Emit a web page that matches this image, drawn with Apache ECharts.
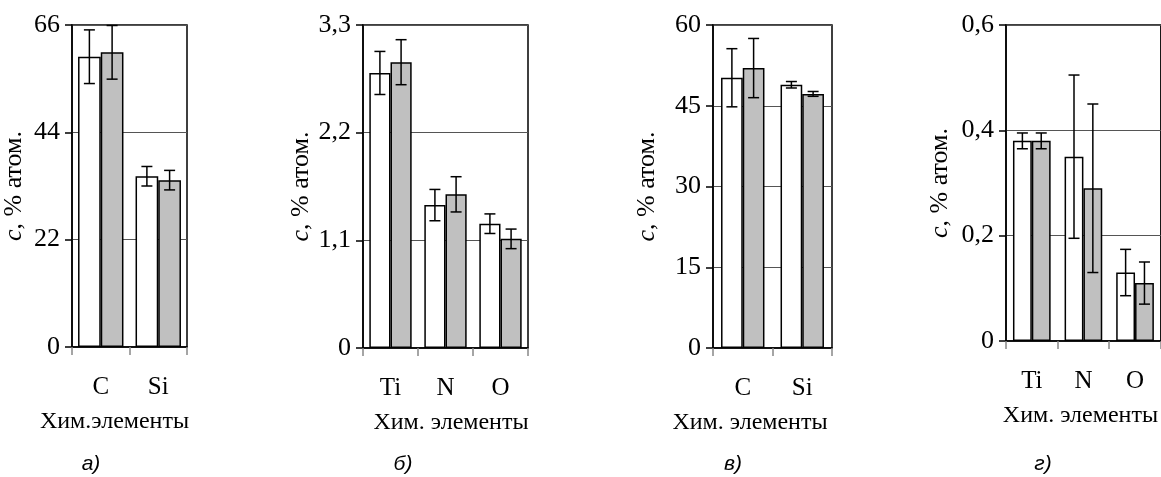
<!DOCTYPE html>
<html><head><meta charset="utf-8">
<script src="https://cdn.jsdelivr.net/npm/echarts@6/dist/echarts.min.js"></script>
<style>html,body{margin:0;padding:0;background:#fff}#c{width:1161px;height:477px}</style>
</head><body><div id="c"></div>
<script>
// ---- data ----
const catsA = ['C', 'Si'];
const whiteA = [59.5, 35.0];
const whiteErrA = [5.5, 2.0];
const grayA = [60.4, 34.2];
const grayErrA = [5.5, 2.0];

const catsB = ['Ti', 'N', 'O'];
const whiteB = [2.81, 1.46, 1.27];
const whiteErrB = [0.22, 0.16, 0.10];
const grayB = [2.92, 1.57, 1.115];
const grayErrB = [0.23, 0.18, 0.10];

const catsC = ['C', 'Si'];
const whiteC = [50.2, 48.9];
const whiteErrC = [5.4, 0.6];
const grayC = [52.0, 47.2];
const grayErrC = [5.5, 0.45];

const catsD = ['Ti', 'N', 'O'];
const whiteD = [0.38, 0.35, 0.13];
const whiteErrD = [0.015, 0.155, 0.044];
const grayD = [0.38, 0.29, 0.11];
const grayErrD = [0.015, 0.16, 0.04];

const yMax = [66, 3.3, 60, 0.6];
const yInterval = [22, 1.1, 15, 0.2];
const xNames = ['Хим.элементы', 'Хим. элементы', 'Хим. элементы', 'Хим. элементы'];
const yName = '{i|c}, % атом.';
const panelLabels = ['а)', 'б)', 'в)', 'г)'];

// ---- layout ----
const panels = [
  {cats: catsA, w: whiteA, we: whiteErrA, g: grayA, ge: grayErrA,
   grid: {left: 71, top: 25, width: 116, height: 322}, gap: 0.21, namePad: [0, 30, 0, 0], yGap: 45, lab: [91, 464]},
  {cats: catsB, w: whiteB, we: whiteErrB, g: grayB, ge: grayErrB,
   grid: {left: 363, top: 25, width: 165, height: 323}, gap: 0.23, namePad: [0, 0, 0, 11], yGap: 46, lab: [403, 464]},
  {cats: catsC, w: whiteC, we: whiteErrC, g: grayC, ge: grayErrC,
   grid: {left: 713, top: 25, width: 119, height: 323}, gap: 0.27, namePad: [0, 45, 0, 0], yGap: 53, lab: [733, 464]},
  {cats: catsD, w: whiteD, we: whiteErrD, g: grayD, ge: grayErrD,
   grid: {left: 1006, top: 25, width: 160, height: 316}, gap: 0.27, namePad: [0, 6, 0, 0], yGap: 53, lab: [1043, 464]}
];

const SERIF = '"Liberation Serif", "Times New Roman", serif';

function fmt(v) {
  return String(+Number(v).toFixed(2)).replace('.', ',');
}

function errRenderer(gapFrac, side) {
  return function (params, api) {
    const xi = api.value(0), v = api.value(1), e = api.value(2);
    const band = api.size([1, 0])[0];
    const bw = band * (1 - gapFrac) / 2;
    const c = api.coord([xi, v]);
    const cx = c[0] + side * bw / 2;
    const yt = api.coord([xi, v + e])[1];
    const yb = api.coord([xi, v - e])[1];
    const hw = 5.5;
    const st = {stroke: '#000', lineWidth: 1.5};
    return {type: 'group', children: [
      {type: 'line', shape: {x1: cx, y1: yt, x2: cx, y2: yb}, style: st},
      {type: 'line', shape: {x1: cx - hw, y1: yt, x2: cx + hw, y2: yt}, style: st},
      {type: 'line', shape: {x1: cx - hw, y1: yb, x2: cx + hw, y2: yb}, style: st}
    ]};
  };
}

const option = {
  animation: false,
  backgroundColor: '#fff',
  grid: [], xAxis: [], yAxis: [], series: [], graphic: []
};

panels.forEach((p, i) => {
  option.grid.push(Object.assign({show: true, borderColor: '#000', borderWidth: 1.5, backgroundColor: 'transparent'}, p.grid));
  option.xAxis.push({
    type: 'category', gridIndex: i, data: p.cats,
    axisLine: {lineStyle: {color: '#000', width: 1.5}},
    axisTick: {show: true, length: 8, lineStyle: {color: '#888', width: 1.5}},
    axisLabel: {margin: 28, color: '#000', fontFamily: SERIF, fontSize: 25},
    name: xNames[i], nameLocation: 'middle', nameGap: 63,
    nameTextStyle: {color: '#000', fontFamily: SERIF, fontSize: 24, padding: p.namePad},
    splitLine: {show: false}
  });
  option.yAxis.push({
    type: 'value', gridIndex: i, min: 0, max: yMax[i], interval: yInterval[i],
    axisLine: {show: true, lineStyle: {color: '#000', width: 1.5}},
    axisTick: {show: true, length: 7, lineStyle: {color: '#000', width: 1.5}},
    axisLabel: {margin: 12, color: '#000', fontFamily: SERIF, fontSize: 26, formatter: fmt},
    splitLine: {show: true, lineStyle: {color: '#555', width: 1}},
    name: yName, nameLocation: 'middle', nameGap: p.yGap,
    nameTextStyle: {color: '#000', fontFamily: SERIF, fontSize: 26,
      rich: {i: {fontStyle: 'italic', fontFamily: SERIF, fontSize: 26, color: '#000'}}}
  });
  const gapStr = Math.round(p.gap * 100) + '%';
  option.series.push({
    type: 'bar', xAxisIndex: i, yAxisIndex: i, data: p.w, barGap: '0%', barCategoryGap: gapStr,
    itemStyle: {color: '#fff', borderColor: '#000', borderWidth: 1.5}, z: 2
  });
  option.series.push({
    type: 'bar', xAxisIndex: i, yAxisIndex: i, data: p.g, barGap: '0%', barCategoryGap: gapStr,
    itemStyle: {color: '#c0c0c0', borderColor: '#000', borderWidth: 1.5}, z: 2
  });
  option.series.push({
    type: 'custom', xAxisIndex: i, yAxisIndex: i, z: 5,
    renderItem: errRenderer(p.gap, -1),
    data: p.w.map((v, k) => [k, v, p.we[k]])
  });
  option.series.push({
    type: 'custom', xAxisIndex: i, yAxisIndex: i, z: 5,
    renderItem: errRenderer(p.gap, 1),
    data: p.g.map((v, k) => [k, v, p.ge[k]])
  });
  option.graphic.push({
    type: 'text', x: p.lab[0], y: p.lab[1],
    style: {text: panelLabels[i], fill: '#000', font: 'italic 21px "Liberation Sans", Arial, sans-serif',
      align: 'center', verticalAlign: 'middle'}
  });
});

const chart = echarts.init(document.getElementById('c'), null, {renderer: 'canvas'});
chart.setOption(option);
</script></body></html>
